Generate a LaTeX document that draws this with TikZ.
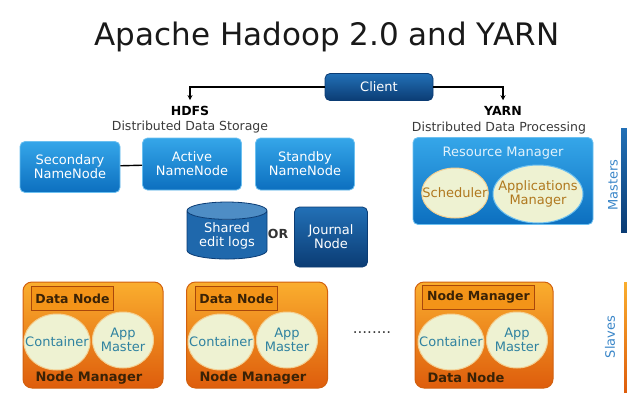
\documentclass[tikz,border=0pt]{standalone}
\usepackage{fontspec}
\setmainfont{DejaVu Sans}
\usetikzlibrary{shapes.geometric,arrows.meta}

\definecolor{boxtop}{HTML}{35A6E9}
\definecolor{boxbot}{HTML}{0C6FBF}
\definecolor{boxedge}{HTML}{6CC0F0}
\definecolor{navytop}{HTML}{2270B6}
\definecolor{navybot}{HTML}{0B3C74}
\definecolor{orangetop}{HTML}{FAAE2E}
\definecolor{orangebot}{HTML}{DE5D0C}
\definecolor{orangeedge}{HTML}{D2600E}
\definecolor{tagfill}{HTML}{F39418}
\definecolor{tagedge}{HTML}{A9470B}
\definecolor{tagtext}{HTML}{3A2206}
\definecolor{eggfill}{HTML}{EEF2D2}
\definecolor{eggtext}{HTML}{2F82A0}
\definecolor{rmtext}{HTML}{B0781E}
\definecolor{sidetext}{HTML}{3A86C8}
\definecolor{subgray}{HTML}{3A3A3A}

\begin{document}
\begin{tikzpicture}[
		x=1pt, y=-1pt,
		every node/.style={font=\fontsize{13}{14}\selectfont},
		bluebox/.style={rectangle, rounded corners=5pt, top color=boxtop, bottom color=boxbot, draw=boxedge, line width=0.8pt, text=white, align=center, inner sep=1pt},
		navybox/.style={rectangle, rounded corners=5pt, top color=navytop, bottom color=navybot, draw=navybot, line width=0.8pt, text=white, align=center, inner sep=1pt},
		slavebox/.style={rectangle, rounded corners=9pt, top color=orangetop, bottom color=orangebot, draw=orangeedge, line width=1pt, minimum width=140pt, minimum height=106pt},
		tagbox/.style={rectangle, fill=tagfill, draw=tagedge, line width=0.9pt, text=tagtext, font=\fontsize{12.5}{13}\selectfont\bfseries, minimum height=24pt, inner sep=3pt, anchor=north west},
		egg/.style={ellipse, fill=eggfill, draw=eggfill!70!orange, line width=1pt, text=eggtext, align=center, inner xsep=-9pt, inner ysep=-3pt},
		heading/.style={font=\fontsize{12.5}{13}\selectfont\bfseries, text=black, inner sep=1pt},
		subheading/.style={font=\fontsize{12.5}{13}\selectfont, text=subgray, inner sep=1pt},
		bottomtext/.style={anchor=west, text=tagtext, font=\fontsize{13}{14}\selectfont\bfseries},
		conn/.style={draw=black, line width=1.1pt, -{Stealth[length=5pt,width=5pt]}}
	]
	\useasboundingbox (0,0) rectangle (627,392);

	% Title
	\node[anchor=base, font=\fontsize{31}{31}\selectfont, text=black!90] (title) at (327,45) {Apache Hadoop 2.0 and YARN};

	% Client and the two halves
	\node[navybox, minimum width=108pt, minimum height=27pt] (client) at (379,87) {Client};
	\node[heading] (hdfs) at (190,111) {HDFS};
	\node[subheading] (hdfssub) at (190,127) {Distributed Data Storage};
	\node[heading] (yarn) at (503,111) {YARN};
	\node[subheading] (yarnsub) at (499,128) {Distributed Data Processing};

	% HDFS masters
	\node[bluebox, minimum width=100pt, minimum height=51pt] (secnn) at (70,167) {Secondary\\NameNode};
	\node[bluebox, minimum width=99pt, minimum height=52pt] (activenn) at (192,164) {Active\\NameNode};
	\node[bluebox, minimum width=99pt, minimum height=52pt] (standbynn) at (305,164) {Standby\\NameNode};
	\node[cylinder, shape border rotate=90, aspect=0.3, minimum width=80pt, minimum height=57pt,
		cylinder uses custom fill, cylinder body fill=navytop!85!navybot, cylinder end fill=navytop!80!white,
		draw=navybot, line width=0.8pt, text=white, align=center, inner sep=1pt] (editlogs) at (227,236) {Shared\\edit logs};
	\node[font=\fontsize{12.5}{13}\selectfont\bfseries, text=black!80] (or) at (278,234) {OR};
	\node[navybox, minimum width=73pt, minimum height=60pt] (journal) at (331,237) {Journal\\Node};

	% YARN master
	\node[bluebox, minimum width=180pt, minimum height=87pt] (rm) at (503,181) {};
	\node[text=white!85!boxtop] (rmtitle) at (503,153) {Resource Manager};
	\node[egg, text=rmtext, minimum width=65pt, minimum height=50pt] (sched) at (455,193) {Scheduler};
	\node[egg, text=rmtext, draw=boxedge, minimum width=90pt, minimum height=58pt] (appsmgr) at (538,194) {Applications\\Manager};

	% Connections
	\draw[conn] (client.west) -| ([yshift=5pt]hdfs.north);
	\draw[conn] (client.east) -| ([yshift=5pt]yarn.north);
	\draw[black, line width=1.4pt] (secnn) -- (activenn);

	% Slave nodes
	\node[slavebox] (slave1) at (93,335) {};
	\node[tagbox, minimum width=82pt] (slave1tag) at (31,286) {Data Node};
	\node[egg, minimum width=66pt, minimum height=56pt] (slave1cont) at (57,342) {Container};
	\node[egg, minimum width=61pt, minimum height=56pt] (slave1app) at (123,340) {App\\Master};
	\node[bottomtext] (slave1nm) at (32,378) {Node Manager};

	\node[slavebox, minimum width=141pt] (slave2) at (257,335) {};
	\node[tagbox, minimum width=82pt] (slave2tag) at (195,286) {Data Node};
	\node[egg, minimum width=66pt, minimum height=56pt] (slave2cont) at (221,342) {Container};
	\node[egg, minimum width=61pt, minimum height=56pt] (slave2app) at (287,340) {App\\Master};
	\node[bottomtext] (slave2nm) at (196,378) {Node Manager};

	\node[text=subgray, font=\fontsize{15}{15}\selectfont] (dots) at (372,333) {........};

	\node[slavebox, minimum width=138pt] (slave3) at (484,335) {};
	\node[tagbox, minimum width=112pt] (slave3tag) at (422,285) {Node Manager};
	\node[egg, minimum width=66pt, minimum height=56pt] (slave3cont) at (451,342) {Container};
	\node[egg, minimum width=61pt, minimum height=56pt] (slave3app) at (517,340) {App\\Master};
	\node[bottomtext] (slave3dn) at (424,378) {Data Node};

	% Side markers
	\node[rotate=90, text=sidetext] (masters) at (613,185) {Masters};
	\shade[top color=navytop, bottom color=navybot] (621,128) rectangle (627,232);
	\node[rotate=90, text=sidetext] (slaves) at (610,337) {Slaves};
	\shade[top color=orangetop, bottom color=orangebot] (624,282) rectangle (627,392);
\end{tikzpicture}
\end{document}
